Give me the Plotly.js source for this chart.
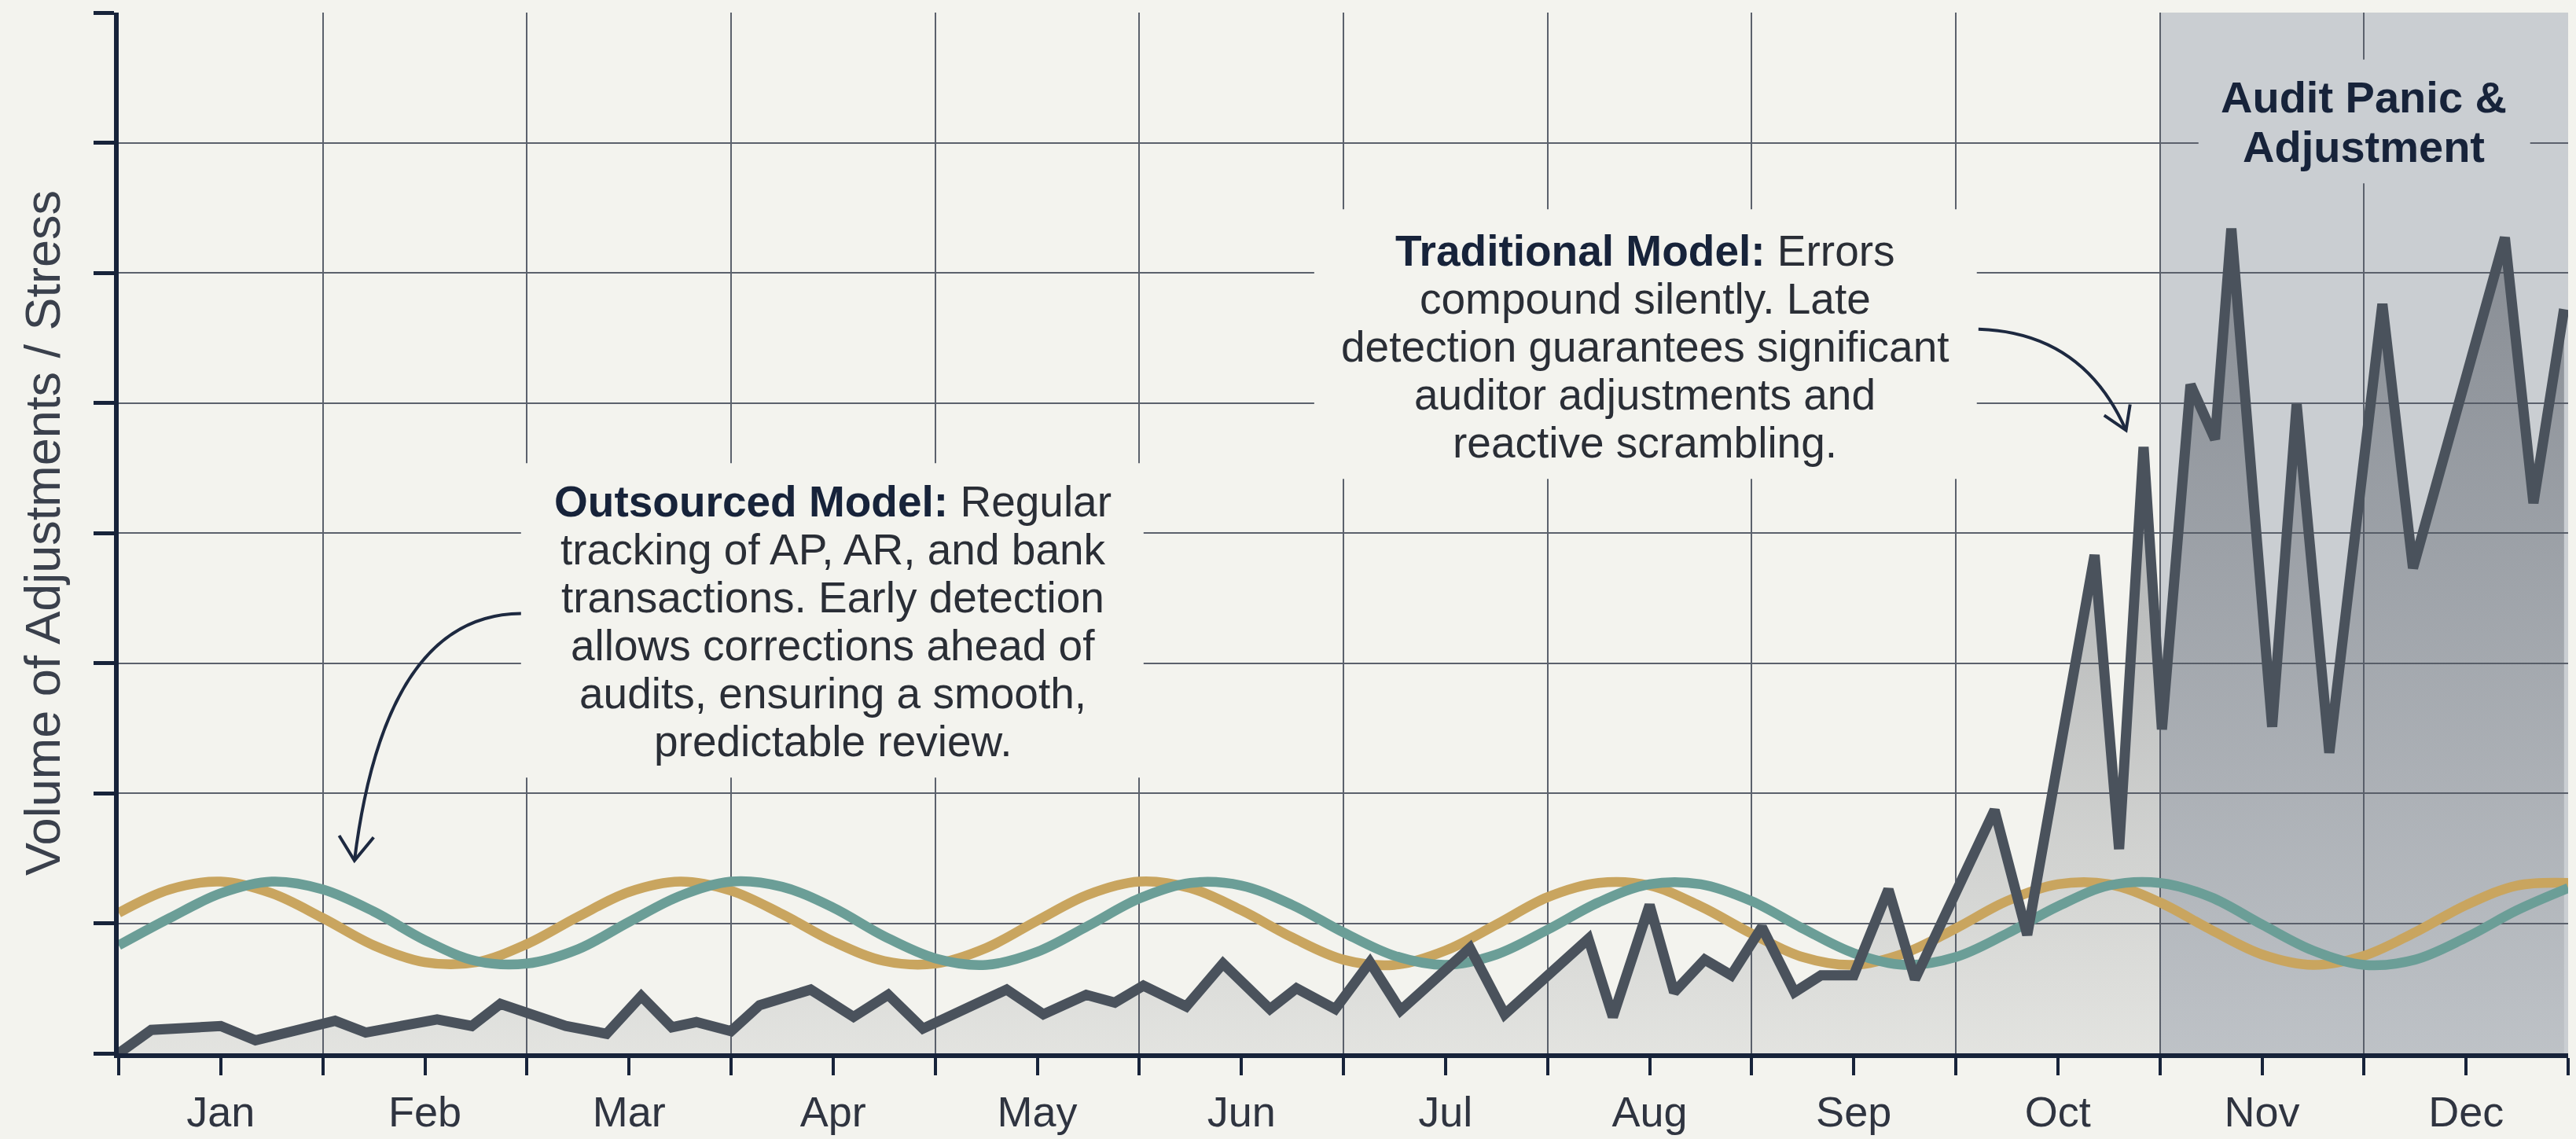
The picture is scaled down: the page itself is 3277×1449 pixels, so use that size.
<!DOCTYPE html>
<html>
<head>
<meta charset="utf-8">
<script src="https://cdn.plot.ly/plotly-3.0.1.min.js"></script>
<style>
  html, body { margin: 0; padding: 0; background: #f3f3ee; }
  #chart { width: 3277px; height: 1449px; }
</style>
</head>
<body>
<div id="chart"></div>
<script>
// ---------- data ----------
const months = ['Jan','Feb','Mar','Apr','May','Jun','Jul','Aug','Sep','Oct','Nov','Dec'];
const monthCenters = [0.5,1.5,2.5,3.5,4.5,5.5,6.5,7.5,8.5,9.5,10.5,11.5];
const monthEdges = [0,1,2,3,4,5,6,7,8,9,10,11,12];

// smooth cadence waves (outsourced model), sampled every quarter month
const waveX = [0,0.25,0.5,0.75,1,1.25,1.5,1.75,2,2.25,2.5,2.75,3,3.25,3.5,3.75,4,4.25,4.5,4.75,
               5,5.25,5.5,5.75,6,6.25,6.5,6.75,7,7.25,7.5,7.75,8,8.25,8.5,8.75,9,9.25,9.5,9.75,
               10,10.25,10.5,10.75,11,11.25,11.5,11.75,12];
const waveGold = [1.08,1.26,1.32,1.23,1.04,0.83,0.70,0.70,0.84,1.05,
                  1.24,1.32,1.25,1.07,0.86,0.71,0.69,0.81,1.02,1.22,
                  1.32,1.27,1.10,0.89,0.72,0.68,0.79,0.99,1.20,1.31,
                  1.29,1.13,0.92,0.74,0.68,0.77,0.96,1.17,1.30,1.30,
                  1.16,0.95,0.76,0.68,0.75,0.93,1.14,1.29,1.31];
const waveTeal = [0.83,1.04,1.23,1.32,1.26,1.09,0.87,0.71,0.69,0.80,
                  1.01,1.21,1.32,1.28,1.12,0.90,0.73,0.68,0.78,0.98,
                  1.19,1.31,1.29,1.14,0.93,0.75,0.68,0.76,0.95,1.16,
                  1.30,1.30,1.17,0.96,0.77,0.68,0.74,0.92,1.13,1.29,
                  1.31,1.20,0.99,0.79,0.68,0.72,0.89,1.10,1.27];

// traditional model: adjustments / stress
const stressX = [0,0.16,0.50,0.67,1.06,1.21,1.56,1.73,1.87,2.19,
                 2.39,2.56,2.71,2.83,3.00,3.14,3.39,3.60,3.77,3.94,
                 4.35,4.53,4.74,4.88,5.02,5.23,5.41,5.64,5.77,5.96,
                 6.13,6.28,6.62,6.79,7.20,7.32,7.50,7.62,7.77,7.90,
                 8.05,8.21,8.34,8.50,8.67,8.80,9.19,9.35,9.68,9.80,
                 9.92,10.01,10.15,10.27,10.35,10.55,10.67,10.83,11.09,11.24,
                 11.69,11.83,11.98];
const stressY = [0,0.18,0.21,0.10,0.25,0.16,0.26,0.21,0.38,0.21,
                 0.15,0.44,0.20,0.24,0.17,0.37,0.49,0.28,0.45,0.19,
                 0.49,0.30,0.45,0.39,0.52,0.36,0.69,0.34,0.50,0.34,
                 0.70,0.33,0.81,0.30,0.88,0.28,1.14,0.47,0.72,0.60,
                 0.97,0.47,0.60,0.60,1.26,0.57,1.87,0.91,3.83,1.57,
                 4.66,2.49,5.14,4.72,6.34,2.51,4.99,2.31,5.76,3.73,
                 6.27,4.23,5.72];

// texts
const yTitle = 'Volume of Adjustments / Stress';
const outsourcedLines = [
  '<b><span style="color:#17233a">Outsourced Model:</span></b> Regular',
  'tracking of AP, AR, and bank',
  'transactions. Early detection',
  'allows corrections ahead of',
  'audits, ensuring a smooth,',
  'predictable review.'
];
const traditionalLines = [
  '<b><span style="color:#17233a">Traditional Model:</span></b> Errors',
  'compound silently. Late',
  'detection guarantees significant',
  'auditor adjustments and',
  'reactive scrambling.'
];
const auditLines = ['<b>Audit Panic &amp;</b>', '<b>Adjustment</b>'];
const auditZone = [10, 12];

// ---------- styling ----------
const BG = '#f3f3ee';
const NAVY = '#17233a';
const GRID = '#5b616c';
const FONT = 'Liberation Sans, Arial, Helvetica, sans-serif';

const traces = [
  { x: stressX, y: stressY, type: 'scatter', mode: 'lines', fill: 'tozeroy',
    line: { width: 0, color: 'rgba(0,0,0,0)' },
    fillgradient: { type: 'vertical', start: 0, stop: 6.4,
      colorscale: [[0, 'rgba(80,86,96,0.10)'], [1, 'rgba(80,86,96,0.55)']] },
    hoverinfo: 'skip', showlegend: false },
  { x: waveX, y: waveGold, type: 'scatter', mode: 'lines',
    line: { color: '#c9a55f', width: 12.5, shape: 'spline', smoothing: 1 }, showlegend: false },
  { x: waveX, y: waveTeal, type: 'scatter', mode: 'lines',
    line: { color: '#6b9e97', width: 12.5, shape: 'spline', smoothing: 1 }, showlegend: false },
  { x: stressX, y: stressY, type: 'scatter', mode: 'lines',
    line: { color: '#4a525c', width: 13 }, showlegend: false }
];

function lineAnnotations(lines, cx, cy, spacing, font) {
  const mid = (lines.length - 1) / 2;
  return lines.map((t, i) => ({
    xref: 'x', yref: 'y', x: cx, y: cy, yshift: (mid - i) * spacing,
    text: t, showarrow: false, xanchor: 'center', yanchor: 'middle', font: font
  }));
}

const bodyFont = { family: FONT, size: 55, color: '#2a2e36' };
const annotations = []
  .concat(lineAnnotations(outsourcedLines, 3.50, 3.32, 61, bodyFont))
  .concat(lineAnnotations(traditionalLines, 7.478, 5.434, 61, bodyFont))
  .concat(lineAnnotations(auditLines, 11.0, 7.16, 63, { family: FONT, size: 56, color: NAVY }));

const shapes = [
  { type: 'rect', xref: 'x', yref: 'y', x0: auditZone[0], x1: auditZone[1], y0: 0, y1: 8,
    fillcolor: '#caced2', line: { width: 0 }, layer: 'below' },
  // text backgrounds that interrupt the grid
  { type: 'rect', xref: 'x', yref: 'y', x0: 1.971, x1: 5.021, y0: 2.12, y1: 4.536,
    fillcolor: BG, line: { width: 0 }, layer: 'between' },
  { type: 'rect', xref: 'x', yref: 'y', x0: 5.857, x1: 9.103, y0: 4.416, y1: 6.488,
    fillcolor: BG, line: { width: 0 }, layer: 'between' },
  { type: 'rect', xref: 'x', yref: 'y', x0: 10.189, x1: 11.814, y0: 6.687, y1: 7.639,
    fillcolor: '#caced2', line: { width: 0 }, layer: 'between' },
  // curved arrows
  { type: 'path', xref: 'x', yref: 'y', path: 'M 1.971 3.380 Q 1.305 3.373 1.155 1.482',
    line: { color: '#1d2940', width: 4 }, layer: 'above' },
  { type: 'path', xref: 'x', yref: 'y', path: 'M 1.080 1.674 L 1.155 1.482 L 1.249 1.660',
    line: { color: '#1d2940', width: 4 }, layer: 'above' },
  { type: 'path', xref: 'x', yref: 'y', path: 'M 9.111 5.566 Q 9.623 5.542 9.834 4.789',
    line: { color: '#1d2940', width: 4 }, layer: 'above' },
  { type: 'path', xref: 'x', yref: 'y', path: 'M 9.727 4.904 L 9.834 4.789 L 9.854 4.988',
    line: { color: '#1d2940', width: 4 }, layer: 'above' }
];

const layout = {
  width: 3277, height: 1449,
  paper_bgcolor: BG, plot_bgcolor: BG,
  margin: { l: 151, r: 10, t: 16, b: 109 },
  font: { family: FONT, color: '#2f3440' },
  showlegend: false,
  xaxis: {
    range: [0, 12], tickmode: 'array', tickvals: monthCenters, ticktext: months,
    ticks: 'outside', ticklen: 22, tickwidth: 4, tickcolor: NAVY,
    tickfont: { family: FONT, size: 54, color: '#2f3440' }, ticklabelstandoff: 0,
    showgrid: false, zeroline: false,
    showline: true, linecolor: NAVY, linewidth: 6,
    minor: { tickmode: 'array', tickvals: monthEdges, ticks: 'outside', ticklen: 22,
             tickwidth: 4, tickcolor: NAVY, showgrid: true, gridcolor: GRID, gridwidth: 2 }
  },
  xaxis2: {
    range: [0, 12], overlaying: 'x', anchor: 'y', side: 'bottom',
    tickmode: 'array', tickvals: monthCenters, ticks: 'inside', ticklen: 20, tickwidth: 4,
    tickcolor: NAVY, showticklabels: false, showgrid: false, zeroline: false, showline: false
  },
  yaxis: {
    range: [0, 8], dtick: 1, tick0: 0, showticklabels: false,
    ticks: 'outside', ticklen: 26, tickwidth: 5, tickcolor: NAVY,
    showgrid: true, gridcolor: GRID, gridwidth: 2, zeroline: false,
    showline: true, linecolor: NAVY, linewidth: 6,
    title: { text: yTitle, font: { family: FONT, size: 63, color: '#3a404c' }, standoff: 24 }
  },
  annotations: annotations,
  shapes: shapes
};

Plotly.newPlot('chart', traces, layout, { staticPlot: true, displayModeBar: false });
</script>
</body>
</html>
